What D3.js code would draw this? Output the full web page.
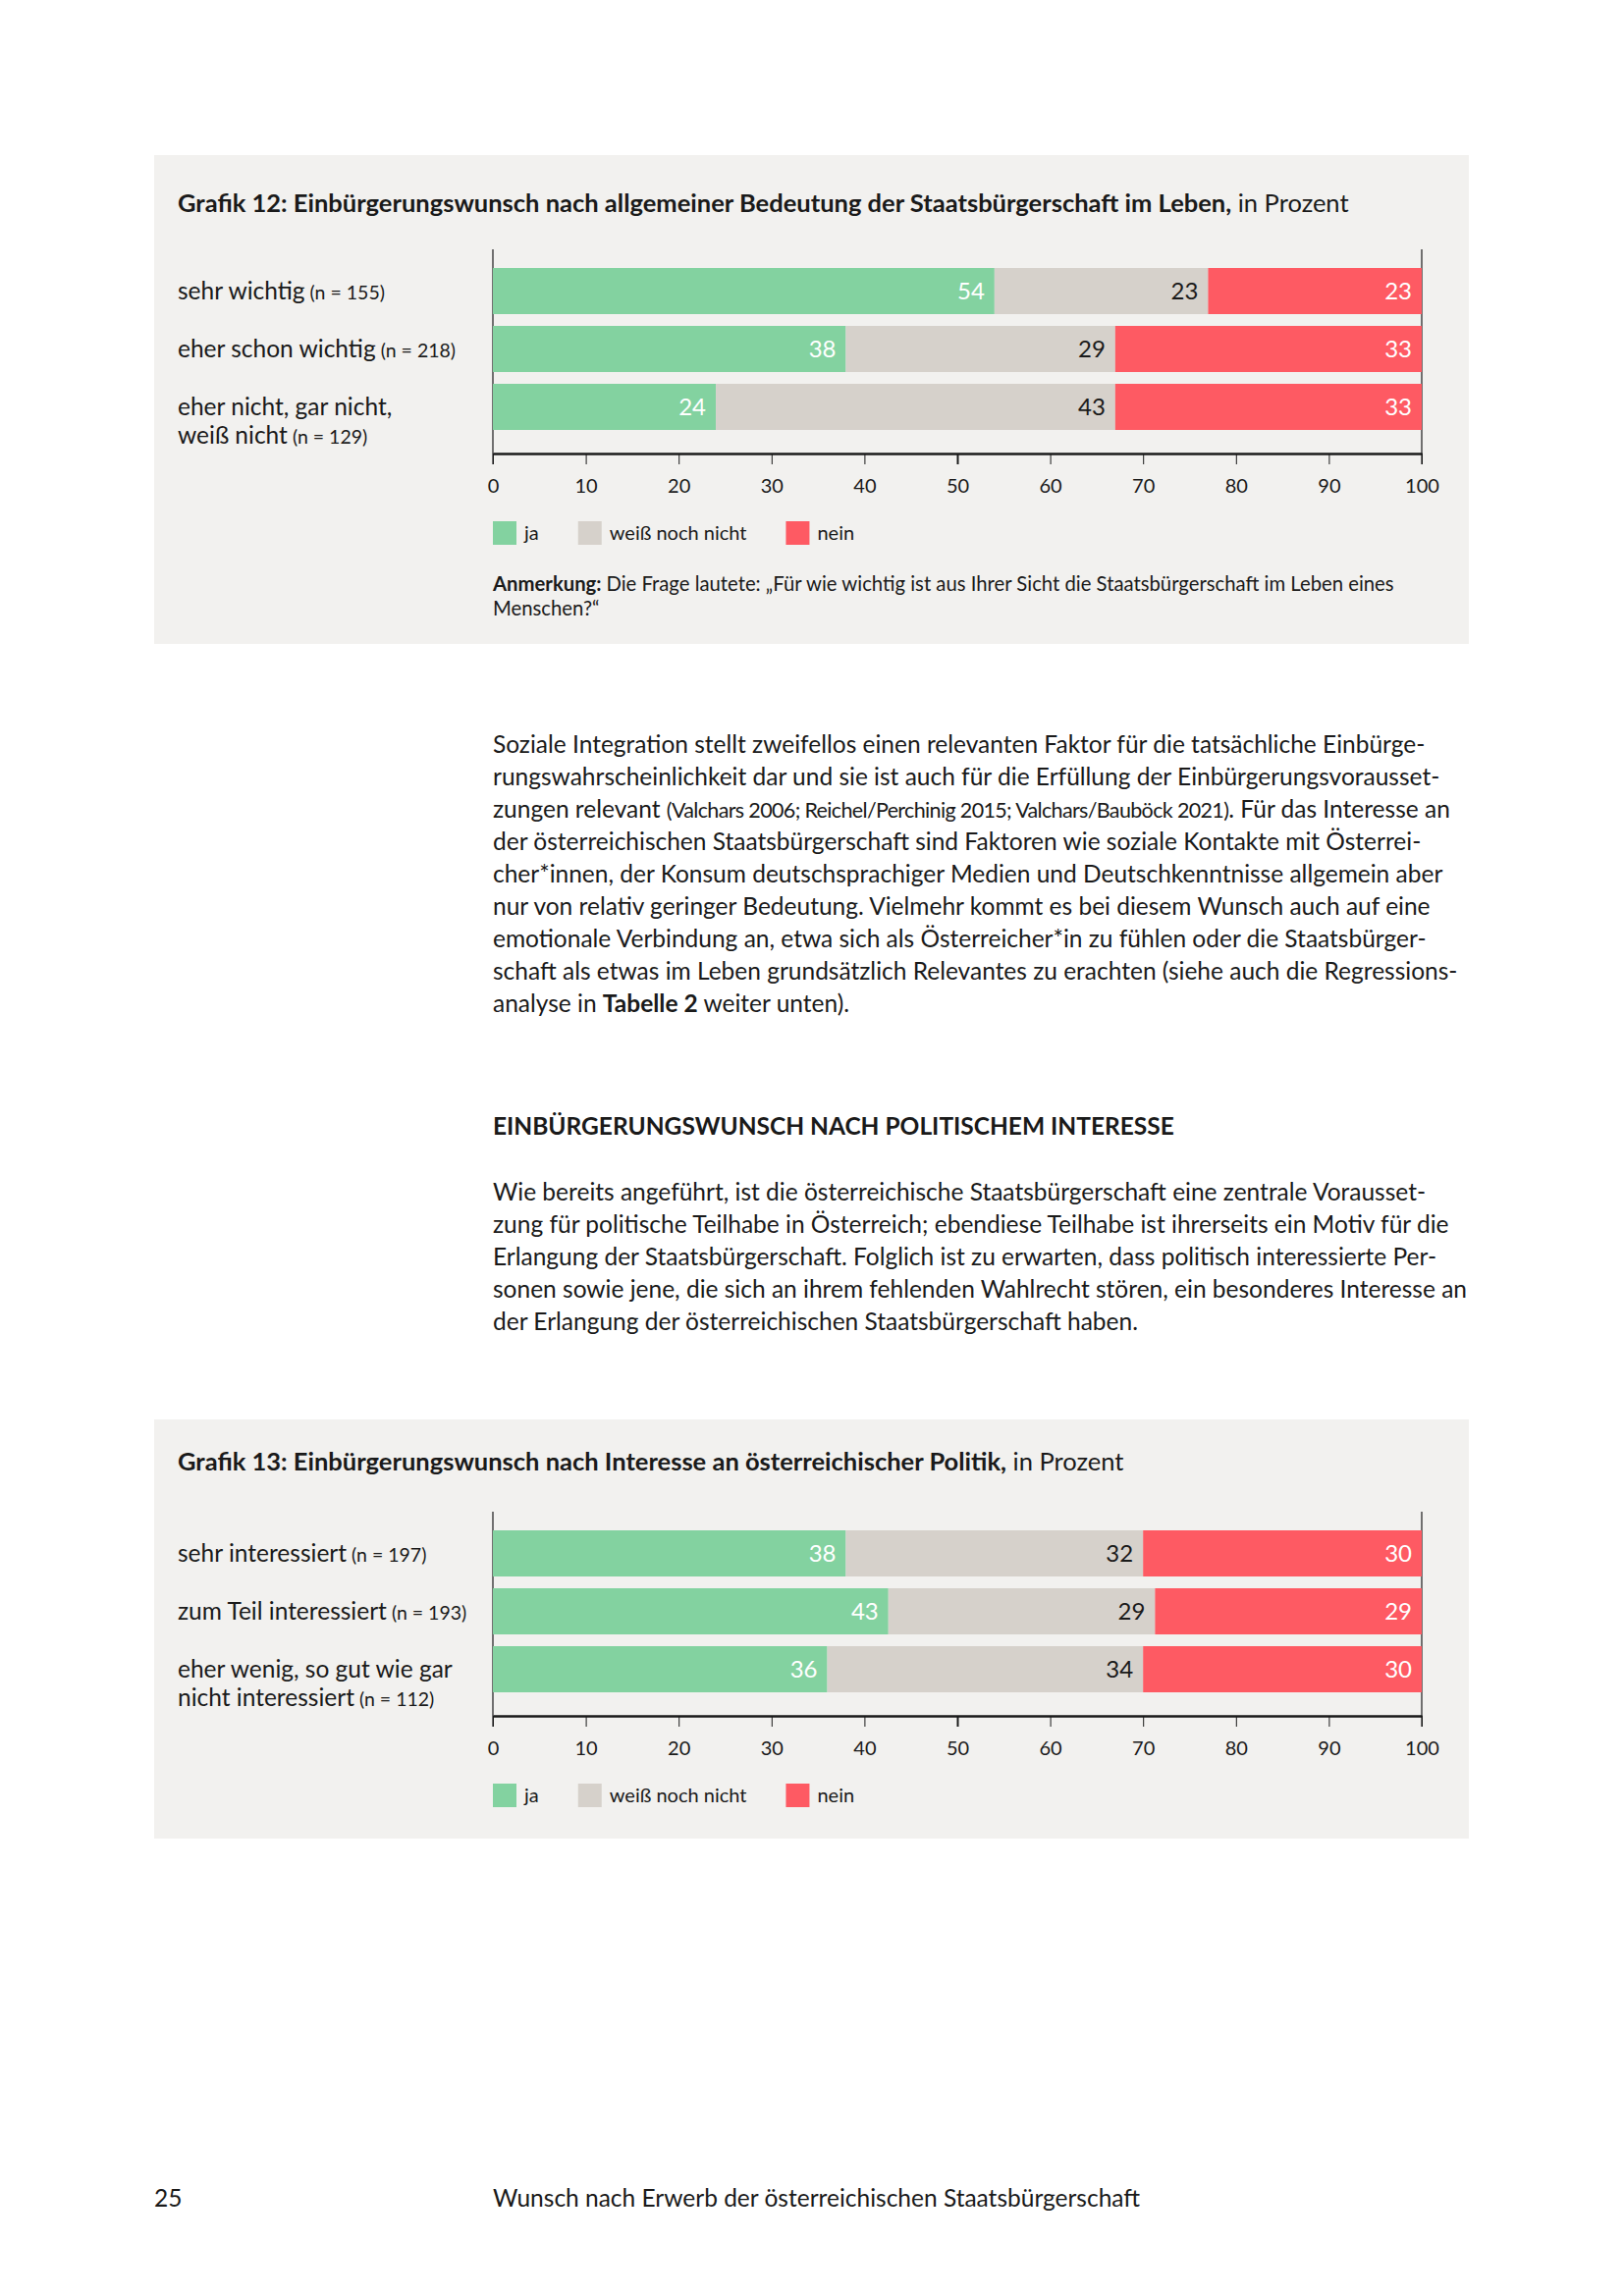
<!DOCTYPE html>
<html>
<head>
<meta charset="utf-8">
<script src="https://cdn.jsdelivr.net/npm/d3@7/dist/d3.min.js"></script>
<style>
  html, body { margin: 0; padding: 0; background: #fff; }
  svg text { font-family: Lato, "Open Sans", sans-serif; fill: #1a1a1a; }
</style>
</head>
<body>
<svg id="page" width="1654" height="2339"></svg>
<script>
// --- data -------------------------------------------------------------
var answerKeys = ["ja", "weiß noch nicht", "nein"];
var answerColors = ["#83d2a0", "#d6d1cb", "#fe5a63"];
var valueTextColors = ["#ffffff", "#1a1a1a", "#ffffff"];
var tickValues = [0, 10, 20, 30, 40, 50, 60, 70, 80, 90, 100];

var rows12 = [["sehr wichtig"], ["eher schon wichtig"], ["eher nicht, gar nicht,", "weiß nicht"]];
var n12 = [155, 218, 129];
var ja12 = [54, 38, 24];
var weiss12 = [23, 29, 43];
var nein12 = [23, 33, 33];

var rows13 = [["sehr interessiert"], ["zum Teil interessiert"], ["eher wenig, so gut wie gar", "nicht interessiert"]];
var n13 = [197, 193, 112];
var ja13 = [38, 43, 36];
var weiss13 = [32, 29, 34];
var nein13 = [30, 29, 30];

var title12 = "Grafik 12: Einbürgerungswunsch nach allgemeiner Bedeutung der Staatsbürgerschaft im Leben,";
var title13 = "Grafik 13: Einbürgerungswunsch nach Interesse an österreichischer Politik,";
var note12 = ["Die Frage lautete: „Für wie wichtig ist aus Ihrer Sicht die Staatsbürgerschaft im Leben eines", "Menschen?“"];

// body text, b = bold, s = small
var para1 = [
    [{ t: "Soziale Integration stellt zweifellos einen relevanten Faktor für die tatsächliche Einbürge-" }],
    [{ t: "rungswahrscheinlichkeit dar und sie ist auch für die Erfüllung der Einbürgerungsvorausset-" }],
    [{ t: "zungen relevant " }, { t: "(Valchars 2006; Reichel/Perchinig 2015; Valchars/Bauböck 2021)", s: true }, { t: ". Für das Interesse an" }],
    [{ t: "der österreichischen Staatsbürgerschaft sind Faktoren wie soziale Kontakte mit Österrei-" }],
    [{ t: "cher*innen, der Konsum deutschsprachiger Medien und Deutschkenntnisse allgemein aber" }],
    [{ t: "nur von relativ geringer Bedeutung. Vielmehr kommt es bei diesem Wunsch auch auf eine" }],
    [{ t: "emotionale Verbindung an, etwa sich als Österreicher*in zu fühlen oder die Staatsbürger-" }],
    [{ t: "schaft als etwas im Leben grundsätzlich Relevantes zu erachten (siehe auch die Regressions-" }],
    [{ t: "analyse in " }, { t: "Tabelle 2", b: true }, { t: " weiter unten)." }]
];
var heading = "EINBÜRGERUNGSWUNSCH NACH POLITISCHEM INTERESSE";
var para2 = [
    [{ t: "Wie bereits angeführt, ist die österreichische Staatsbürgerschaft eine zentrale Vorausset-" }],
    [{ t: "zung für politische Teilhabe in Österreich; ebendiese Teilhabe ist ihrerseits ein Motiv für die" }],
    [{ t: "Erlangung der Staatsbürgerschaft. Folglich ist zu erwarten, dass politisch interessierte Per-" }],
    [{ t: "sonen sowie jene, die sich an ihrem fehlenden Wahlrecht stören, ein besonderes Interesse an" }],
    [{ t: "der Erlangung der österreichischen Staatsbürgerschaft haben." }]
];

// --- layout -----------------------------------------------------------
var svg = d3.select("#page");
var PANEL_X = 157, PANEL_W = 1339, LABEL_X = 181, TEXT_X = 502;
var BODY_SIZE = 24.5;
var x = d3.scaleLinear().domain([0, 100]).range([502, 1448]);

svg.append("rect").attr("width", 1654).attr("height", 2339).attr("fill", "#ffffff");

function drawChart(cfg) {
    var g = svg.append("g");

    g.append("rect")
        .attr("x", PANEL_X).attr("y", cfg.top)
        .attr("width", PANEL_W).attr("height", cfg.bottom - cfg.top)
        .attr("fill", "#f2f1ef");

    var title = g.append("text").attr("x", LABEL_X).attr("y", cfg.titleY).attr("dy", "0.36em").attr("font-size", 25.5);
    title.append("tspan").attr("font-weight", 700).text(cfg.title);
    title.append("tspan").text(" in Prozent");

    var table = cfg.ja.map(function (d, i) {
        return { row: i, "ja": cfg.ja[i], "weiß noch nicht": cfg.weiss[i], "nein": cfg.nein[i] };
    });

    var y = d3.scaleBand()
        .domain(d3.range(table.length))
        .range([cfg.barTop, cfg.barTop + 165])
        .paddingInner(12 / 59)
        .paddingOuter(0);

    // rounded values do not always add up to 100, so stack to share
    var series = d3.stack().keys(answerKeys).offset(d3.stackOffsetExpand)(table);

    var axisTop = cfg.barTop - 19;
    var axisY = y(table.length - 1) + y.bandwidth() + 24;

    // side lines
    g.selectAll("line.side").data([0, 100]).enter().append("line")
        .attr("class", "side")
        .attr("x1", function (d) { return x(d); }).attr("x2", function (d) { return x(d); })
        .attr("y1", axisTop).attr("y2", axisY + 11)
        .attr("stroke", "#1a1a1a").attr("stroke-width", 1.2);

    var layers = g.selectAll("g.layer").data(series).enter().append("g")
        .attr("class", "layer")
        .attr("fill", function (d, i) { return answerColors[i]; });

    layers.selectAll("rect").data(function (d) { return d; }).enter().append("rect")
        .attr("x", function (d) { return x(d[0] * 100); })
        .attr("width", function (d) { return x(d[1] * 100) - x(d[0] * 100); })
        .attr("y", function (d) { return y(d.data.row); })
        .attr("height", y.bandwidth());

    layers.each(function (s, si) {
        d3.select(this).selectAll("text").data(s).enter().append("text")
            .attr("x", function (d) { return x(d[1] * 100) - 10; })
            .attr("y", function (d) { return y(d.data.row) + y.bandwidth() / 2; })
            .attr("dy", "0.36em")
            .attr("text-anchor", "end")
            .attr("font-size", 24)
            .style("fill", valueTextColors[si])
            .text(function (d) { return d.data[s.key]; });
    });

    // row labels
    cfg.rows.forEach(function (lines, i) {
        var cy = y(i) + y.bandwidth() / 2;
        lines.forEach(function (line, li) {
            var t = g.append("text").attr("x", LABEL_X).attr("y", cy + li * 29).attr("dy", "0.36em").attr("font-size", BODY_SIZE);
            t.append("tspan").text(line);
            if (li === lines.length - 1) {
                t.append("tspan").attr("font-size", 19.5).text(" (n = " + cfg.n[i] + ")");
            }
        });
    });

    // x axis
    var axis = g.append("g")
        .attr("transform", "translate(0," + axisY + ")")
        .call(d3.axisBottom(x).tickValues(tickValues).tickSize(11).tickSizeOuter(0).tickPadding(15));
    axis.select(".domain").attr("stroke", "#1a1a1a").attr("stroke-width", 2.4);
    axis.selectAll(".tick line").attr("stroke", "#1a1a1a")
        .attr("stroke-width", function (d) { return d === 50 ? 2 : 1; });
    axis.selectAll(".tick text")
        .attr("font-family", null).attr("font-size", 20).style("fill", "#1a1a1a");

    // legend
    var lx = x(0);
    var legendY = axisY + 69;
    answerKeys.forEach(function (k, i) {
        g.append("rect").attr("x", lx).attr("y", legendY).attr("width", 24).attr("height", 24).attr("fill", answerColors[i]);
        var t = g.append("text").attr("x", lx + 32).attr("y", legendY + 12).attr("dy", "0.36em").attr("font-size", 20).text(k);
        lx = lx + 32 + t.node().getComputedTextLength() + 40;
    });

    if (cfg.note) {
        cfg.note.forEach(function (line, li) {
            var t = g.append("text").attr("x", x(0)).attr("y", legendY + 64 + li * 25).attr("dy", "0.36em").attr("font-size", 20.3);
            if (li === 0) t.append("tspan").attr("font-weight", 700).text("Anmerkung: ");
            t.append("tspan").text(line);
        });
    }
}

function drawParagraph(lines, top) {
    lines.forEach(function (segs, li) {
        var t = svg.append("text").attr("x", TEXT_X).attr("y", top + li * 33).attr("dy", "0.36em").attr("font-size", BODY_SIZE);
        segs.forEach(function (s) {
            var ts = t.append("tspan").text(s.t);
            if (s.b) ts.attr("font-weight", 700);
            if (s.s) ts.attr("font-size", 21.5).attr("letter-spacing", -0.65);
        });
    });
}

drawChart({
    top: 158, bottom: 656, titleY: 207, barTop: 273,
    title: title12, rows: rows12, n: n12, ja: ja12, weiss: weiss12, nein: nein12, note: note12
});

drawParagraph(para1, 757.7);

svg.append("text").attr("x", TEXT_X).attr("y", 1146.7).attr("dy", "0.36em")
    .attr("font-size", BODY_SIZE).attr("font-weight", 700).text(heading);

drawParagraph(para2, 1214.3);

drawChart({
    top: 1446, bottom: 1873, titleY: 1489, barTop: 1559,
    title: title13, rows: rows13, n: n13, ja: ja13, weiss: weiss13, nein: nein13
});

// footer
svg.append("text").attr("x", 157).attr("y", 2239).attr("dy", "0.36em").attr("font-size", BODY_SIZE).text("25");
svg.append("text").attr("x", TEXT_X).attr("y", 2239).attr("dy", "0.36em").attr("font-size", BODY_SIZE)
    .text("Wunsch nach Erwerb der österreichischen Staatsbürgerschaft");
</script>
</body>
</html>
